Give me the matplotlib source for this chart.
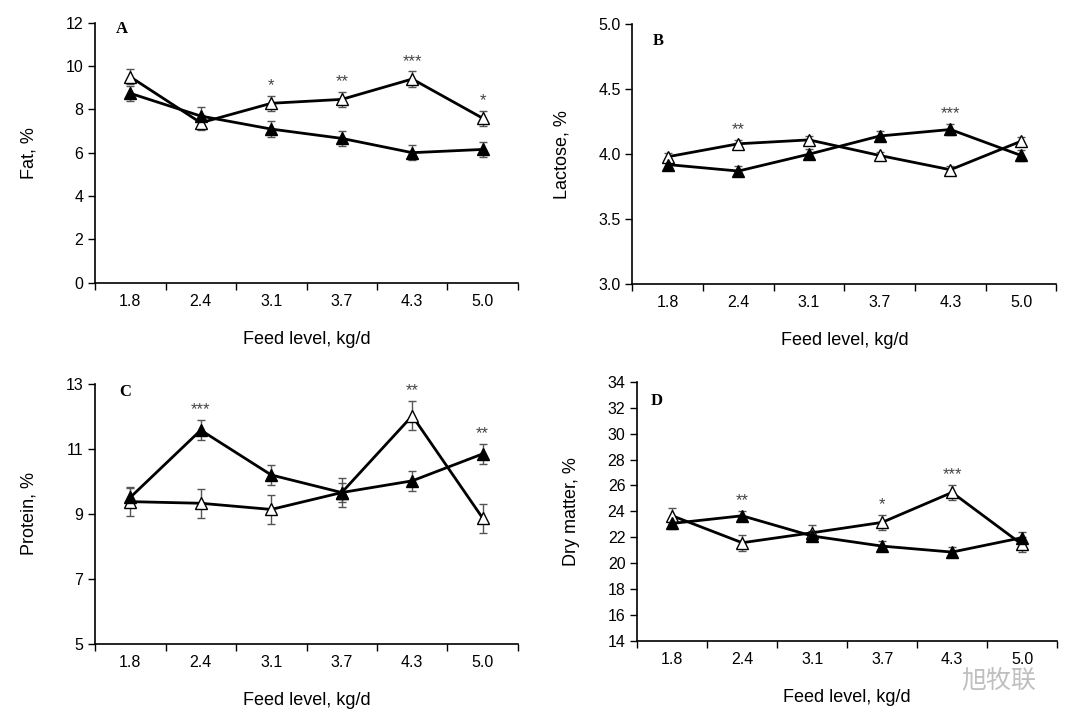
import matplotlib
matplotlib.use("Agg")
import matplotlib.pyplot as plt
import numpy as np

plt.rcParams['font.family'] = ['Liberation Sans', 'DejaVu Sans']

feed_levels = ["1.8", "2.4", "3.1", "3.7", "4.3", "5.0"]

# Panel A: Fat, %
fat_open = [9.50, 7.38, 8.28, 8.46, 9.40, 7.59]
fat_open_err = [0.35, 0.35, 0.35, 0.35, 0.35, 0.35]
fat_filled = [8.74, 7.69, 7.09, 6.66, 6.00, 6.15]
fat_filled_err = [0.35, 0.40, 0.35, 0.35, 0.35, 0.35]
fat_stars = ["", "", "*", "**", "***", "*"]

# Panel B: Lactose, %
lac_open = [3.98, 4.08, 4.11, 3.99, 3.88, 4.10]
lac_open_err = [0.03, 0.03, 0.03, 0.03, 0.03, 0.03]
lac_filled = [3.92, 3.87, 4.00, 4.14, 4.19, 3.99]
lac_filled_err = [0.03, 0.04, 0.04, 0.04, 0.04, 0.04]
lac_stars = ["", "**", "", "", "***", ""]

# Panel C: Protein, %
pro_open = [9.38, 9.33, 9.14, 9.66, 12.02, 8.87]
pro_open_err = [0.45, 0.45, 0.45, 0.45, 0.45, 0.45]
pro_filled = [9.51, 11.58, 10.20, 9.66, 10.02, 10.85]
pro_filled_err = [0.30, 0.30, 0.30, 0.30, 0.30, 0.30]
pro_stars = ["", "***", "", "", "**", "**"]

# Panel D: Dry matter, %
dm_open = [23.66, 21.58, 22.35, 23.15, 25.46, 21.45]
dm_open_err = [0.6, 0.6, 0.6, 0.6, 0.6, 0.6]
dm_filled = [23.07, 23.66, 22.10, 21.32, 20.86, 21.97]
dm_filled_err = [0.4, 0.4, 0.4, 0.4, 0.4, 0.4]
dm_stars = ["", "**", "", "*", "***", ""]

panels = [
    dict(letter="A", lpos=(0.064, 0.976), ylabel="Fat, %", open=fat_open, open_err=fat_open_err,
         filled=fat_filled, filled_err=fat_filled_err, stars=fat_stars,
         ylim=(0, 12), yticks=np.arange(0, 13, 2), fmt="{:.0f}",
         rect=[0.088, 0.6013, 0.3916, 0.3667]),
    dict(letter="B", lpos=(0.061, 0.936), ylabel="Lactose, %", open=lac_open, open_err=lac_open_err,
         filled=lac_filled, filled_err=lac_filled_err, stars=lac_stars,
         ylim=(3.0, 5.0), yticks=np.arange(3.0, 5.01, 0.5), fmt="{:.1f}",
         rect=[0.5855, 0.5994, 0.3927, 0.3663]),
    dict(letter="C", lpos=(0.071, 0.969), ylabel="Protein, %", open=pro_open, open_err=pro_open_err,
         filled=pro_filled, filled_err=pro_filled_err, stars=pro_stars,
         ylim=(5, 13), yticks=np.arange(5, 14, 2), fmt="{:.0f}",
         rect=[0.088, 0.0917, 0.3916, 0.3667]),
    dict(letter="D", lpos=(0.046, 0.927), ylabel="Dry matter, %", open=dm_open, open_err=dm_open_err,
         filled=dm_filled, filled_err=dm_filled_err, stars=dm_stars,
         ylim=(14, 34), yticks=np.arange(14, 35, 2), fmt="{:.0f}",
         rect=[0.590, 0.0959, 0.3887, 0.3657]),
]

fig = plt.figure(figsize=(10.8, 7.09), dpi=100)
x = np.arange(len(feed_levels))

for p in panels:
    ax = fig.add_axes(p["rect"])
    ax.errorbar(x, p["open"], yerr=p["open_err"], color="black", lw=2,
                marker="^", ms=8, mfc="white", mec="black", mew=1.0,
                ecolor="#555555", elinewidth=1, capsize=3, capthick=1, zorder=3)
    ax.errorbar(x, p["filled"], yerr=p["filled_err"], color="black", lw=2,
                marker="^", ms=8, mfc="black", mec="black",
                ecolor="#555555", elinewidth=1, capsize=3, capthick=1, zorder=3)
    for i, s in enumerate(p["stars"]):
        if s:
            top = max(p["open"][i] + p["open_err"][i], p["filled"][i] + p["filled_err"][i])
            ax.annotate(s, (x[i], top), xytext=(0, 2), textcoords="offset points",
                        ha="center", va="bottom", fontsize=12, color="#444444")
    ax.set_xlim(-0.5, len(feed_levels) - 0.5)
    ax.set_ylim(*p["ylim"])
    ax.set_xticks(np.arange(-0.5, len(feed_levels), 1.0))
    ax.set_xticklabels([])
    ax.set_xticks(x, minor=True)
    ax.set_xticklabels(feed_levels, minor=True)
    ax.tick_params(axis="x", which="minor", length=0, pad=8, labelsize=11.5)
    ax.tick_params(axis="x", which="major", direction="out", length=5, width=1)
    ax.set_yticks(p["yticks"])
    ax.set_yticklabels([p["fmt"].format(v) for v in p["yticks"]])
    ax.tick_params(axis="y", direction="out", length=5, width=1, labelsize=11.5)
    for side in ("top", "right"):
        ax.spines[side].set_visible(False)
    for side in ("left", "bottom"):
        ax.spines[side].set_linewidth(1.2)
    ax.set_xlabel("Feed level, kg/d", fontsize=13, labelpad=16)
    ax.set_ylabel(p["ylabel"], fontsize=13, labelpad=20)
    ax.text(p["lpos"][0], p["lpos"][1], p["letter"], transform=ax.transAxes,
            ha="center", va="center", fontsize=12, fontweight="bold",
            family="Liberation Serif")

fig.text(0.925, 0.04, "旭牧联", fontsize=18, color="#b0b0b0", ha="center", va="center",
         family=["Noto Sans CJK SC", "DejaVu Sans"], alpha=0.8)

fig.savefig("out.png", dpi=100)
